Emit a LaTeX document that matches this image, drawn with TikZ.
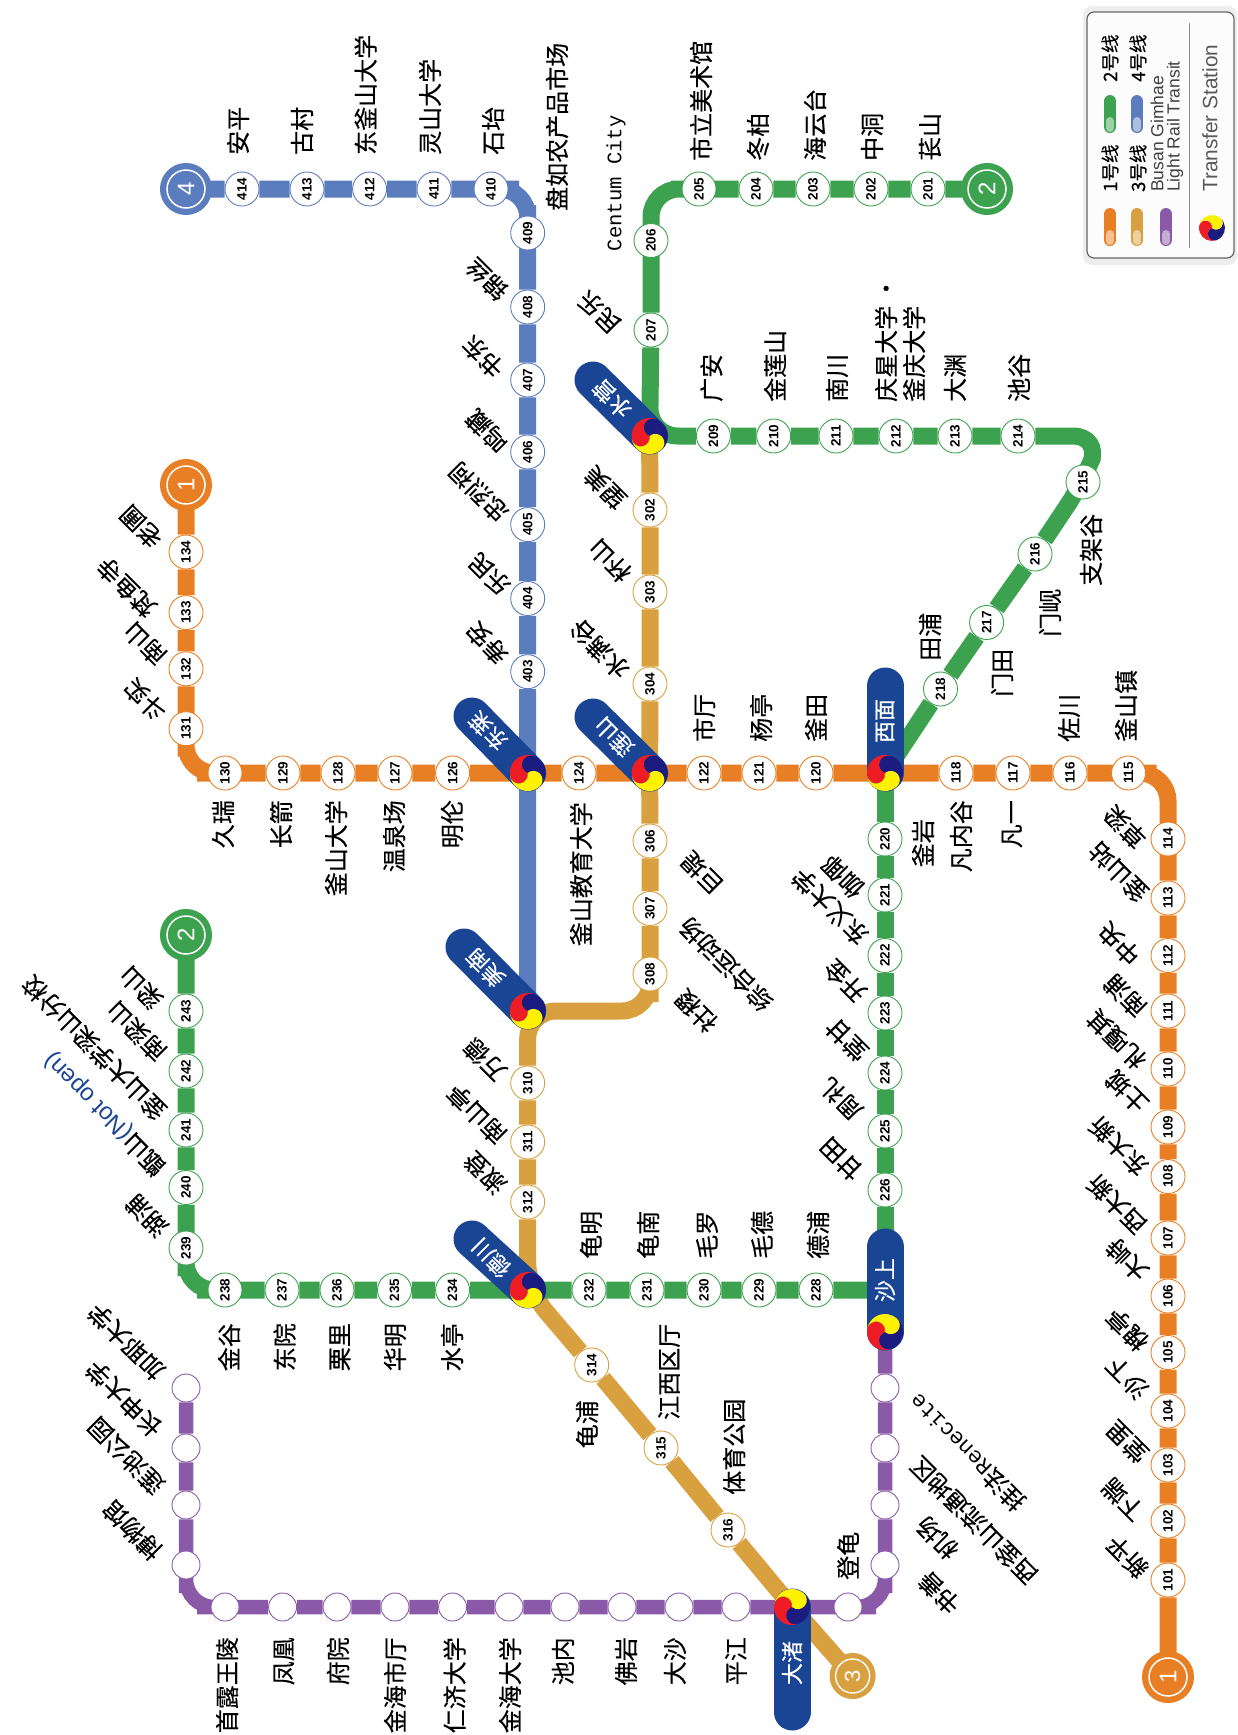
\documentclass[tikz,border=0pt]{standalone}
\usepackage{fontspec}
\setmainfont{Noto Sans CJK SC}[FakeBold=0.35]
\newfontfamily\numfont{Liberation Sans}
\newfontfamily\wideletters{Liberation Mono}
\usetikzlibrary{backgrounds}

\definecolor{lineone}{HTML}{E97F24}
\definecolor{linetwo}{HTML}{3DA24F}
\definecolor{linethree}{HTML}{D9A03F}
\definecolor{linefour}{HTML}{5B7DBE}
\definecolor{linerail}{HTML}{8A59A7}
\definecolor{pillblue}{HTML}{1A4595}
\definecolor{hubred}{HTML}{EE1C25}
\definecolor{hubyellow}{HTML}{FFF200}
\definecolor{hubnavy}{HTML}{1B1B80}

\tikzset{
  stn/.style={circle, fill=white, draw=#1, line width=0.9pt, minimum size=34pt, inner sep=0pt, rotate=90,
    font=\numfont\bfseries\fontsize{13.5}{14}\selectfont},
  railstn/.style={circle, fill=white, draw=linerail, line width=0.9pt, minimum size=28pt, inner sep=0pt},
  term/.style={circle, fill=#1, draw=white, line width=1.5pt, minimum size=38pt, inner sep=0pt, rotate=90,
    preaction={draw=#1, line width=14pt}, text=white, font=\numfont\fontsize{24}{24}\selectfont},
  track/.style={line width=17pt, draw=#1, rounded corners=28pt},
  pill/.style={line width=37pt, draw=pillblue, line cap=round},
  lblup/.style={rotate=90, anchor=west, inner sep=0pt, font=\fontsize{24}{28}\selectfont},
  lbldown/.style={rotate=90, anchor=east, inner sep=0pt, font=\fontsize{24}{28}\selectfont},
  lbldiag/.style={rotate=135, anchor=west, inner sep=0pt, font=\fontsize{24}{28}\selectfont},
  lbldiagend/.style={rotate=135, anchor=east, inner sep=0pt, font=\fontsize{24}{28}\selectfont},
  pilltext/.style={inner sep=0pt, text=white, font=\fontsize{22}{22}\selectfont},
  keytext/.style={rotate=90, anchor=west, inner sep=0pt, font=\numfont\fontsize{17.5}{17}\selectfont, text=black!75},
  keyline/.style={rotate=90, anchor=west, inner sep=0pt, font=\fontsize{18.5}{20}\selectfont},
  taegeuk/.pic={
    \foreach \c/\a in {hubnavy/-50, hubred/70, hubyellow/190}
      \fill[\c] (0,0) arc[start angle=\a+180, delta angle=-180, radius=9pt]
        arc[start angle=\a, delta angle=120, radius=18pt]
        arc[start angle=\a+120, delta angle=180, radius=9pt] -- cycle;
  }
}

\begin{document}
\begin{tikzpicture}[x=1pt, y=-1pt]
  \useasboundingbox (0,0) rectangle (1238,1735);

  % hubs
  \coordinate (hDongnae) at (527.7,773);
  \coordinate (hYeonsan) at (649.6,773);
  \coordinate (hSeomyeon) at (885,773);
  \coordinate (hSuyeong) at (649.6,436);
  \coordinate (hMinam) at (527.7,1011);
  \coordinate (hDeokcheon) at (527.7,1290);
  \coordinate (hSasang) at (885,1332);
  \coordinate (hDaejeo) at (792,1607);
  \coordinate (cDongnae) at (472,716);
  \coordinate (cYeonsan) at (593,717);
  \coordinate (cSeomyeon) at (885,686);
  \coordinate (cSuyeong) at (593,380);
  \coordinate (cMinam) at (464,947);
  \coordinate (cDeokcheon) at (472,1239);
  \coordinate (cSasang) at (885,1247);
  \coordinate (cDaejeo) at (792,1712);
  \coordinate (c215) at (1101,436);

  % line ends
  \node[term=lineone] (tOneTop) at (186,485) {1};
  \node[term=lineone] (tOneEnd) at (1168,1677) {1};
  \node[term=linetwo] (tTwoTop) at (987,189) {2};
  \node[term=linetwo] (tTwoEnd) at (186,935) {2};
  \node[circle, fill=linethree, draw=white, line width=1.4pt, minimum size=34pt, inner sep=0pt, rotate=90,
    preaction={draw=linethree, line width=12pt}, text=white, font=\numfont\fontsize{22}{22}\selectfont] (tThree) at (852.6,1676) {3};
  \node[term=linefour] (tFour) at (186,189) {4};

  % line 1
  \foreach \n/\y in {134/552,133/612.6,132/668.8,131/728.7}
    \node[stn=lineone] (s\n) at (186,\y) {\n};
  \foreach \n/\x in {130/225,129/283,128/338,127/395,126/452.6,124/579,122/704,121/759,120/816,118/956,117/1013,116/1070,115/1128.5}
    \node[stn=lineone] (s\n) at (\x,773) {\n};
  \foreach \n/\y in {114/839,113/898,112/955.5,111/1011,110/1069,109/1127,108/1176.5,107/1238,106/1296,105/1352.5,104/1411,103/1465,102/1521,101/1580}
    \node[stn=lineone] (s\n) at (1168,\y) {\n};

  % line 2
  \foreach \n/\x in {201/928,202/871,203/813,204/756,205/699}
    \node[stn=linetwo] (s\n) at (\x,189) {\n};
  \foreach \n/\y in {206/240.5,207/330}
    \node[stn=linetwo] (s\n) at (651,\y) {\n};
  \foreach \n/\x in {209/713.4,210/773.7,211/836,212/896,213/955,214/1018}
    \node[stn=linetwo] (s\n) at (\x,436) {\n};
  \foreach \n/\x/\y in {215/1083/482,216/1035/554,217/986.6/622.5,218/940.5/689}
    \node[stn=linetwo] (s\n) at (\x,\y) {\n};
  \foreach \n/\y in {220/839,221/895,222/955.5,223/1013,224/1073,225/1131,226/1190}
    \node[stn=linetwo] (s\n) at (885,\y) {\n};
  \foreach \n/\x in {228/816,229/759,230/704,231/647,232/589,234/452.6,235/394.5,236/337,237/282,238/225}
    \node[stn=linetwo] (s\n) at (\x,1290) {\n};
  \foreach \n/\y in {239/1248,240/1187.5,241/1130,242/1071,243/1011}
    \node[stn=linetwo] (s\n) at (186,\y) {\n};

  % line 3
  \foreach \n/\y in {302/510,303/592,304/684,306/841,307/908.5,308/974}
    \node[stn=linethree] (s\n) at (650,\y) {\n};
  \foreach \n/\y in {310/1083,311/1142,312/1202}
    \node[stn=linethree] (s\n) at (527.7,\y) {\n};
  \foreach \n/\x/\y in {314/591.7/1365,315/661/1448,316/728/1530}
    \node[stn=linethree] (s\n) at (\x,\y) {\n};

  % line 4
  \foreach \n/\x in {414/242,413/307,412/369.6,411/434,410/491}
    \node[stn=linefour] (s\n) at (\x,189) {\n};
  \foreach \n/\y in {409/233,408/307,407/380,406/452,405/524.6,404/598.5,403/671.7}
    \node[stn=linefour] (s\n) at (527.7,\y) {\n};

  % light rail
  \foreach \n/\y in {1/1388,2/1448,3/1505,4/1565}
    \node[railstn] (r\n) at (885,\y) {};
  \node[railstn] (r5) at (848,1607) {};
  \foreach \n/\x in {7/736,8/679,9/622,10/565,11/509,12/452.6,13/395,14/337,15/282.6,16/225}
    \node[railstn] (r\n) at (\x,1607) {};
  \foreach \n/\y in {17/1565,18/1505,19/1448,20/1388}
    \node[railstn] (r\n) at (186,\y) {};

  \begin{pgfonlayer}{background}
    \draw[track=linerail, line width=14.5pt] (hSasang) -- (r1) -- (r2) -- (r3) -- (r4.center) |- (r5.center) -- (hDaejeo)
      -- (r7) -- (r8) -- (r9) -- (r10) -- (r11) -- (r12) -- (r13) -- (r14) -- (r15) -- (r16.center) -| (r17.center) -- (r18) -- (r19) -- (r20);
    \draw[track=linefour] (tFour) -- (s414) -- (s413) -- (s412) -- (s411) -- (s410.center) -| (s409.center) -- (s408) -- (s407)
      -- (s406) -- (s405) -- (s404) -- (s403) -- (hDongnae) -- (hMinam);
    \draw[track=linethree] (tThree) -- (hDaejeo) -- (s316) -- (s315) -- (s314) -- (hDeokcheon) -- (s312) -- (s311) -- (s310) -- (hMinam)
      -| (s308.center) -- (s307) -- (s306) -- (hYeonsan) -- (s304) -- (s303) -- (s302) -- (hSuyeong);
    \draw[track=linetwo] (tTwoTop) -- (s201) -- (s202) -- (s203) -- (s204) -- (s205.center) -| (s206.center) -- (s207) -- (hSuyeong)
      -- (s209) -- (s210) -- (s211) -- (s212) -- (s213) -- (s214) -- (c215) -- (s215.center) -- (s216) -- (s217) -- (s218) -- (hSeomyeon);
    \draw[track=linetwo] (hSeomyeon) -- (s220) -- (s221) -- (s222) -- (s223) -- (s224) -- (s225) -- (s226) -- (hSasang);
    \draw[track=linetwo] (hSasang |- s228) -- (s228) -- (s229) -- (s230) -- (s231) -- (s232) -- (hDeokcheon) -- (s234) -- (s235) -- (s236) -- (s237)
      -- (s238.center) -| (s239.center) -- (s240) -- (s241) -- (s242) -- (s243) -- (tTwoEnd);
    \draw[track=lineone] (tOneTop) -- (s134) -- (s133) -- (s132) -- (s131.center) |- (s130.center) -- (s129) -- (s128) -- (s127) -- (s126)
      -- (hDongnae) -- (s124) -- (hYeonsan) -- (s122) -- (s121) -- (s120) -- (hSeomyeon) -- (s118) -- (s117) -- (s116) -- (s115.center)
      -| (s114.center) -- (s113) -- (s112) -- (s111) -- (s110) -- (s109) -- (s108) -- (s107) -- (s106) -- (s105) -- (s104) -- (s103) -- (s102) -- (s101) -- (tOneEnd);
    \draw[pill] (hDongnae) -- (cDongnae);
    \draw[pill] (hYeonsan) -- (cYeonsan);
    \draw[pill] (hSeomyeon) -- (cSeomyeon);
    \draw[pill] (hSuyeong) -- (cSuyeong);
    \draw[pill] (hMinam) -- (cMinam);
    \draw[pill] (hDeokcheon) -- (cDeokcheon);
    \draw[pill] (hSasang) -- (cSasang);
    \draw[pill] (hDaejeo) -- (cDaejeo);
  \end{pgfonlayer}

  \pic at (hDongnae) {taegeuk};
  \pic at (hYeonsan) {taegeuk};
  \pic at (hSeomyeon) {taegeuk};
  \pic at (hSuyeong) {taegeuk};
  \pic at (hMinam) {taegeuk};
  \pic at (hDeokcheon) {taegeuk};
  \pic[yscale=-1] at (hSasang) {taegeuk};
  \pic[yscale=-1] at (hDaejeo) {taegeuk};

  \node[pilltext, rotate=135] (nDongnae) at (488,731) {东莱};
  \node[pilltext, rotate=135] (nYeonsan) at (614,737) {莲山};
  \node[pilltext, rotate=135] (nSuyeong) at (612,399) {水营};
  \node[pilltext, rotate=135] (nMinam) at (485,968) {美南};
  \node[pilltext, rotate=135] (nDeokcheon) at (491,1258) {德川};
  \node[pilltext, rotate=90] (nSeomyeon) at (885,721) {西面};
  \node[pilltext, rotate=90] (nSasang) at (885,1280) {沙上};
  \node[pilltext, rotate=90] (nDaejeo) at (792,1663) {大渚};

  % labels above a line
  \foreach \n/\x/\y/\txt in {414/238/155/安平,413/302/155/古村,412/365.6/155/东釜山大学,411/430/155/灵山大学,410/493/155/石坮,409/557/211/盘如农产品市场,
    205/701/161/市立美术馆,204/758/161/冬柏,203/815/161/海云台,202/872/161/中洞,201/930/161/苌山,
    209/711.5/402/广安,210/775/402/金莲山,211/837/402/南川,213/955/402/大渊,214/1019/402/池谷,
    122/704/742/市厅,121/761/742/杨亭,120/816/742/釜田,116/1069/742/佐川,115/1126/742/釜山镇,
    218/930/661/田浦,217/1002/697/门田,216/1050/637/门岘,215/1091/586/支架谷,
    232/591/1259/龟明,231/648/1259/龟南,230/707/1259/毛罗,229/762/1259/毛德,228/818/1259/德浦,
    315/669/1420/江西区厅,316/734/1495/体育公园,r5/848/1580/登龟}
    \node[lblup] (l\n) at (\x,\y) {\txt};
  \node[lblup, font=\wideletters\fontsize{20.6}{22}\selectfont] (l206) at (616,251.5) {Centum City};
  \node[lblup, align=left] (l212) at (900,402) {庆星大学 ·\\釜庆大学};

  % labels below a line
  \foreach \n/\x/\y/\txt in {130/223/800/久瑞,129/281/800/长箭,128/336/800/釜山大学,127/394/800/温泉场,126/452/800/明伦,124/581/802/釜山教育大学,
    118/961/800/凡内谷,117/1012/800/凡一,220/923/819/釜岩,
    238/229/1323/金谷,237/284.6/1323/东院,236/340/1323/栗里,235/395/1323/华明,234/452/1323/水亭,314/587/1400/龟浦,
    r16/227/1637/首露王陵,r15/284/1637/凤凰,r14/338/1637/府院,r13/395/1637/金海市厅,r12/454.5/1637/仁济大学,r11/510/1637/金海大学,
    r10/563/1637/池内,r9/626/1637/佛岩,r8/675/1637/大沙,r7/736/1637/平江}
    \node[lbldown] (l\n) at (\x,\y) {\txt};

  % slanted labels, first character next to the line
  \foreach \n/\x/\y/\txt in {134/158/544/老圃,133/152/613/梵鱼寺,132/162/661/南山,131/162/717/斗实,
    243/158/1005/梁山,242/162/1057/南梁山,241/162/1116/釜山大学梁山分校,239/164/1233/湖浦,
    408/504/296/锦丝,407/500/374/书东,406/504/448/鸣藏,405/504/518/忠烈祠,404/506/591/乐民,403/504/660/寿安,
    310/502/1077/万德,311/502/1140/南山亭,312/502/1190/淑登,
    207/616/329/民乐,302/622/505/望美,303/627/578/杯山,304/625/675/水满谷,
    221/860/894/伽倻,222/864/941/东义大学,223/862/998/开金,224/864/1057/堂甘,225/858/1116/周礼,226/858/1176/甘田,
    114/1142/844/草梁,113/1144/898/釜山站,112/1136/961/中央,111/1142/1013/南浦,110/1142/1065/札嘎其,109/1144/1109/土城,
    108/1144/1172/东大新,107/1142/1230/西大新,106/1144/1277/大峙,105/1144/1347/槐亭,104/1144/1395/沙下,103/1144/1459/堂里,102/1140/1517/下端,101/1144/1574/新平,
    r17/158/1556/博物馆,r18/160/1490/莲池公园,r19/158/1433/长申大学,r20/160/1376/加耶大学}
    \node[lbldiag] (l\n) at (\x,\y) {\txt};
  \node[lbldiag] (l240) at (162,1171) {甑山\textcolor{pillblue}{\numfont(Not open)}};

  % slanted labels, last character next to the line
  \foreach \n/\x/\y/\txt in {306/685/856/巨堤,307/683/922/综合运动场,308/679/994/社稷,
    r2/914/1461/西釜山流通地区,r3/920/1521/机场,r4/922/1576/书善}
    \node[lbldiagend] (l\n) at (\x,\y) {\txt};
  \node[lbldiagend] (lr1) at (912,1398) {挂法{\wideletters\fontsize{22}{24}\selectfont Renecite}};

  % key
  \fill[rounded corners=9pt, fill=black!7] (1083,6) rectangle (1237,265);
  \draw[rounded corners=7pt, draw=black!60, line width=1.2pt, fill=black!1] (1087,12) rectangle (1234,258);
  \foreach \x/\y/\c in {1110/208/lineone,1137/208/linethree,1166/208/linerail,1110/95/linetwo,1137/95/linefour} {
    \draw[line width=12pt, line cap=round, \c] (\x,\y+6) -- (\x,\y+32);
    \draw[line width=8pt, line cap=round, \c!50!white] (\x,\y+26) -- (\x,\y+33);
  }
  \node[keyline] (k1) at (1110,192) {1号线};
  \node[keyline] (k2) at (1110,82) {2号线};
  \node[keyline] (k3) at (1138,192) {3号线};
  \node[keyline] (k4) at (1138,82) {4号线};
  \node[keytext] (k5) at (1157,192) {Busan Gimhae};
  \node[keytext] (k6) at (1175,192) {Light Rail Transit};
  \node[keytext, font=\numfont\fontsize{20.8}{22}\selectfont, text=black!65] (k7) at (1210,192) {Transfer Station};
  \draw[black!45, line width=0.9pt] (1189,23) -- (1189,248);
  \pic[yscale=-0.72, xscale=0.72] at (1212,228) {taegeuk};
\end{tikzpicture}
\end{document}
